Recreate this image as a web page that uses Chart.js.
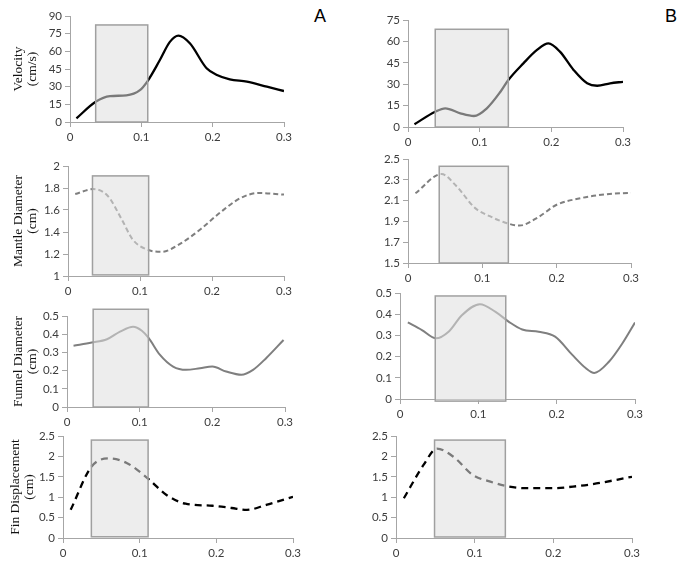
<!DOCTYPE html>
<html><head><meta charset="utf-8">
<script src="https://cdn.jsdelivr.net/npm/chart.js@4.4.1/dist/chart.umd.min.js"></script>
<style>
html,body{margin:0;padding:0;background:#fff;}
body{width:680px;height:563px;position:relative;overflow:hidden;}
canvas{position:absolute;}
.lbl{position:absolute;font-family:"Liberation Sans",Arial,sans-serif;font-size:18px;color:#000;line-height:1;}
</style></head><body>
<div class="lbl" style="left:314px;top:7px">A</div>
<div class="lbl" style="left:665px;top:7px">B</div>
<script>
// ---- data (time in s) ----
const xTickLabels = ['0', '0.1', '0.2', '0.3'];

const timeVelA = [0.009, 0.036, 0.056, 0.079, 0.098, 0.109, 0.126, 0.14, 0.152, 0.168, 0.1915, 0.206, 0.224, 0.248, 0.276, 0.3];
const velA     = [3.1, 17.2, 22, 22.6, 27, 35, 52.6, 68, 73.3, 66.8, 45.6, 39.9, 36.2, 34.2, 30, 26.3];
const timeVelB = [0.009, 0.038, 0.052, 0.073, 0.092, 0.11, 0.129, 0.14, 0.161, 0.18, 0.196, 0.212, 0.231, 0.25, 0.264, 0.282, 0.3];
const velB     = [1.9, 10.7, 13.1, 9.6, 7.7, 13.1, 24.7, 32.9, 44.6, 54, 58.6, 52.8, 40, 30.6, 28.9, 30.6, 31.7];

const timeMantA = [0.01, 0.035, 0.055, 0.075, 0.09, 0.11, 0.13, 0.155, 0.185, 0.21, 0.24, 0.265, 0.3];
const mantA     = [1.745, 1.79, 1.73, 1.51, 1.33, 1.24, 1.22, 1.29, 1.43, 1.57, 1.71, 1.755, 1.74];
const timeMantB = [0.01, 0.045, 0.065, 0.09, 0.11, 0.13, 0.15, 0.175, 0.2, 0.23, 0.265, 0.3];
const mantB     = [2.17, 2.355, 2.24, 2.03, 1.95, 1.89, 1.86, 1.94, 2.06, 2.12, 2.16, 2.175];

const timeFunA = [0.009, 0.034, 0.055, 0.073, 0.091, 0.103, 0.112, 0.128, 0.146, 0.164, 0.183, 0.2, 0.219, 0.24, 0.256, 0.274, 0.298];
const funA     = [0.337, 0.354, 0.372, 0.414, 0.441, 0.419, 0.381, 0.286, 0.222, 0.204, 0.213, 0.222, 0.195, 0.177, 0.204, 0.268, 0.368];
const timeFunB = [0.01, 0.028, 0.046, 0.062, 0.079, 0.102, 0.122, 0.139, 0.156, 0.177, 0.198, 0.22, 0.237, 0.248, 0.267, 0.284, 0.3];
const funB     = [0.361, 0.325, 0.286, 0.317, 0.395, 0.447, 0.411, 0.364, 0.328, 0.317, 0.294, 0.208, 0.146, 0.123, 0.177, 0.263, 0.361];

const timeFinA = [0.01, 0.037, 0.06, 0.083, 0.11, 0.135, 0.16, 0.195, 0.22, 0.24, 0.265, 0.3];
const finA     = [0.69, 1.745, 1.95, 1.84, 1.47, 1.055, 0.84, 0.79, 0.735, 0.69, 0.81, 1.01];
const timeFinB = [0.01, 0.035, 0.052, 0.073, 0.098, 0.12, 0.141, 0.166, 0.2, 0.225, 0.25, 0.3];
const finB     = [0.975, 1.79, 2.19, 1.99, 1.54, 1.38, 1.27, 1.22, 1.22, 1.26, 1.32, 1.5];

// shaded interval: [xStart, xEnd, yBottom, yTop]
const boxVelA  = [0.036, 0.109, 0, 82.4];
const boxVelB  = [0.038, 0.140, 0, 68.5];
const boxMantA = [0.034, 0.112, 1.01, 1.91];
const boxMantB = [0.042, 0.135, 1.5, 2.43];
const boxFunA  = [0.036, 0.112, 0, 0.537];
const boxFunB  = [0.045, 0.135, -0.01, 0.486];
const boxFinA  = [0.037, 0.111, 0.03, 2.40];
const boxFinB  = [0.049, 0.139, 0.025, 2.40];

// y axis ranges [min, max, step]
const yVelA = [0, 90, 15], yVelB = [0, 75, 15];
const yMantA = [1, 2, 0.2], yMantB = [1.5, 2.5, 0.2];
const yFunA = [0, 0.5, 0.1], yFunB = [0, 0.5, 0.1];
const yFinA = [0, 2.5, 0.5], yFinB = [0, 2.5, 0.5];

const titleVel = ['Velocity', '(cm/s)'];
const titleMant = ['Mantle Diameter', '(cm)'];
const titleFun = ['Funnel Diameter', '(cm)'];
const titleFin = ['Fin Displacement', '(cm)'];

// ---- styling / layout ----
const axisColor = '#a6a6a6';
const tickColor = '#3c3c3c';
const BLACK = '#000000', GREY = '#7f7f7f';

const boxPlugin = {
  id: 'shadeBox',
  afterDatasetsDraw(chart, args, opts) {
    const b = opts.box; if (!b) return;
    const xs = chart.scales.x, ys = chart.scales.y;
    const x0 = xs.getPixelForValue(b[0]), x1 = xs.getPixelForValue(b[1]);
    const y0 = ys.getPixelForValue(b[2]), y1 = ys.getPixelForValue(b[3]);
    const ctx = chart.ctx;
    ctx.save();
    ctx.fillStyle = 'rgba(222,222,222,0.55)';
    ctx.fillRect(x0, y1, x1 - x0, y0 - y1);
    ctx.strokeStyle = '#a0a0a0';
    ctx.lineWidth = 1.5;
    ctx.strokeRect(x0, y1, x1 - x0, y0 - y1);
    ctx.restore();
  }
};

function fmt(v) { return String(+(+v).toFixed(3)); }

function makeChart(p) {
  const cl = p.cl;
  const ct = p.T - 12;
  const padT = 12, padR = 15, xh = 22;
  const yw = p.L - cl;
  const w = p.R - cl + padR;
  const h = p.B - p.T + padT + xh;
  const cv = document.createElement('canvas');
  cv.width = w; cv.height = h;
  cv.style.left = cl + 'px'; cv.style.top = ct + 'px';
  cv.style.width = w + 'px'; cv.style.height = h + 'px';
  document.body.appendChild(cv);
  new Chart(cv, {
    type: 'line',
    data: { datasets: [{
      data: p.xs.map((x, i) => ({ x: x, y: p.ys[i] })),
      borderColor: p.color, borderWidth: p.lw, borderDash: p.dash,
      pointRadius: 0, cubicInterpolationMode: 'monotone', fill: false, borderCapStyle: 'butt'
    }]},
    options: {
      responsive: false, animation: false, maintainAspectRatio: false,
      devicePixelRatio: 1,
      layout: { padding: { left: 0, top: padT, right: padR, bottom: 0 } },
      plugins: { legend: { display: false }, tooltip: { enabled: false }, shadeBox: { box: p.box } },
      scales: {
        x: {
          type: 'linear', min: 0, max: 0.3,
          afterFit(s) { s.height = xh; },
          afterBuildTicks(s) { s.ticks = xTickLabels.map(t => ({ value: +t })); },
          ticks: { callback: (v) => xTickLabels.find(t => +t === +(+v).toFixed(3)) || fmt(v),
                   color: tickColor, font: { family: 'Lato', size: 11.5 }, padding: 3, maxRotation: 0 },
          grid: { drawOnChartArea: false, tickLength: 5, color: axisColor },
          border: { color: axisColor, width: 1 }
        },
        y: {
          type: 'linear', min: p.y[0], max: p.y[1],
          afterFit(s) { s.width = yw; },
          ticks: { stepSize: p.y[2], callback: fmt, color: tickColor, font: { family: 'Lato', size: 11.5 }, padding: 3 },
          grid: { drawOnChartArea: false, tickLength: 5, color: axisColor },
          border: { color: axisColor, width: 1 },
          title: p.title ? { display: true, text: p.title, color: '#111',
                   font: { family: 'Liberation Serif', size: 13.5, lineHeight: 1.05 },
                   padding: { top: p.tpad, bottom: 0 } } : { display: false }
        }
      }
    },
    plugins: [boxPlugin]
  });
}

const panels = [
  { cl: 0,   L: 70,  R: 284, T: 16,  B: 122, xs: timeVelA,  ys: velA,  y: yVelA,  box: boxVelA,  color: BLACK, lw: 2.3, dash: [], title: titleVel, tpad: 11 },
  { cl: 340, L: 408, R: 623, T: 20,  B: 127, xs: timeVelB,  ys: velB,  y: yVelB,  box: boxVelB,  color: BLACK, lw: 2.3, dash: [] },
  { cl: 0,   L: 68,  R: 284, T: 166, B: 276, xs: timeMantA, ys: mantA, y: yMantA, box: boxMantA, color: GREY,  lw: 2,   dash: [5, 3], title: titleMant, tpad: 11 },
  { cl: 340, L: 408, R: 631, T: 159, B: 263, xs: timeMantB, ys: mantB, y: yMantB, box: boxMantB, color: GREY,  lw: 2,   dash: [5, 3] },
  { cl: 0,   L: 67,  R: 285, T: 316, B: 407, xs: timeFunA,  ys: funA,  y: yFunA,  box: boxFunA,  color: GREY,  lw: 2,   dash: [], title: titleFun, tpad: 11 },
  { cl: 340, L: 400, R: 635, T: 293, B: 399, xs: timeFunB,  ys: funB,  y: yFunB,  box: boxFunB,  color: GREY,  lw: 2,   dash: [] },
  { cl: 0,   L: 63,  R: 293, T: 436, B: 538, xs: timeFinA,  ys: finA,  y: yFinA,  box: boxFinA,  color: BLACK, lw: 2.3, dash: [7, 5], title: titleFin, tpad: 8 },
  { cl: 340, L: 396, R: 632, T: 436, B: 538, xs: timeFinB,  ys: finB,  y: yFinB,  box: boxFinB,  color: BLACK, lw: 2.3, dash: [7, 5] }
];
panels.forEach(makeChart);
</script>
</body></html>
